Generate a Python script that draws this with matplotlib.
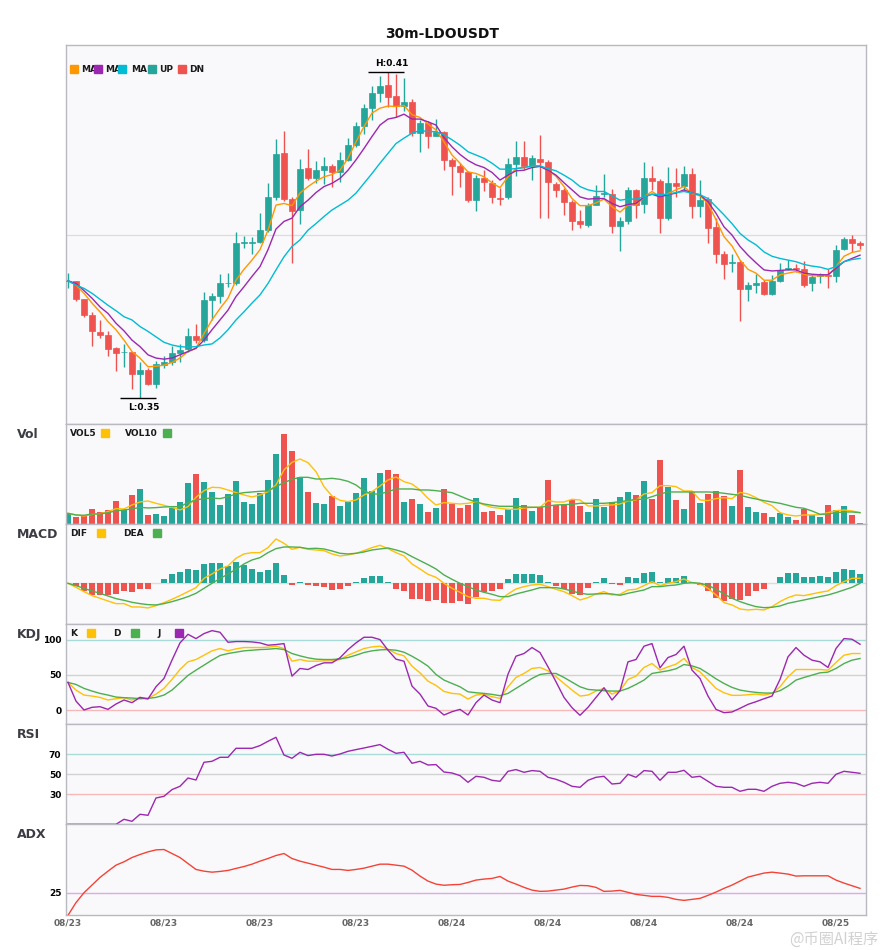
import numpy as np
import matplotlib
matplotlib.use("Agg")
import matplotlib.pyplot as plt
from matplotlib.patches import Rectangle

# ---------------- data ----------------
# prices in units of 1e-4 USDT, 30m candles
opens = [3715, 3716, 3682, 3653, 3621, 3617, 3592, 3585, 3586, 3544,
         3552, 3527, 3561, 3566, 3583, 3590, 3615, 3607, 3681, 3688,
         3711, 3711, 3786, 3786, 3787, 3809, 3869, 3950, 3866, 3846,
         3923, 3905, 3919, 3927, 3916, 3938, 3965, 4000, 4033, 4061,
         4076, 4055, 4037, 4044, 3987, 4006, 3982, 3989, 3937, 3926,
         3915, 3864, 3905, 3896, 3868, 3869, 3930, 3944, 3926, 3940,
         3934, 3894, 3883, 3861, 3825, 3818, 3855, 3876, 3876, 3817,
         3826, 3883, 3857, 3905, 3899, 3832, 3895, 3890, 3912, 3854,
         3866, 3815, 3765, 3748, 3750, 3700, 3708, 3713, 3692, 3716,
         3738, 3740, 3737, 3711, 3724, 3726, 3724, 3775, 3792, 3785]
highs = [3731, 3716, 3682, 3659, 3644, 3624, 3595, 3600, 3586, 3567,
         3555, 3569, 3577, 3596, 3600, 3630, 3636, 3695, 3693, 3728,
         3730, 3806, 3799, 3797, 3841, 3895, 3976, 3991, 3870, 3940,
         3958, 3936, 3943, 3930, 3953, 3979, 4008, 4040, 4074, 4092,
         4100, 4096, 4089, 4049, 4012, 4009, 4014, 3992, 3942, 3932,
         3918, 3910, 3919, 3901, 3886, 3941, 3973, 3973, 3947, 3984,
         3938, 3898, 3886, 3864, 3846, 3859, 3892, 3912, 3885, 3834,
         3888, 3884, 3934, 3927, 3903, 3925, 3924, 3927, 3924, 3901,
         3870, 3832, 3771, 3766, 3754, 3713, 3728, 3717, 3727, 3749,
         3754, 3747, 3752, 3728, 3731, 3737, 3782, 3797, 3800, 3789]
lows = [3702, 3678, 3649, 3596, 3611, 3578, 3550, 3558, 3517, 3500,
        3525, 3519, 3555, 3561, 3567, 3586, 3601, 3604, 3644, 3675,
        3705, 3708, 3776, 3766, 3785, 3806, 3864, 3862, 3748, 3821,
        3901, 3895, 3894, 3889, 3898, 3936, 3962, 3985, 4011, 4044,
        4036, 4016, 4027, 3981, 3953, 3959, 3981, 3919, 3874, 3889,
        3861, 3845, 3880, 3858, 3855, 3866, 3909, 3922, 3902, 3832,
        3832, 3869, 3837, 3809, 3812, 3814, 3855, 3870, 3804, 3771,
        3820, 3832, 3840, 3883, 3804, 3828, 3869, 3880, 3831, 3834,
        3786, 3749, 3720, 3733, 3643, 3679, 3693, 3689, 3689, 3714,
        3736, 3733, 3705, 3698, 3711, 3703, 3713, 3773, 3768, 3774]
closes = [3716, 3682, 3653, 3623, 3616, 3591, 3584, 3586, 3544, 3552,
          3526, 3564, 3566, 3583, 3589, 3615, 3608, 3681, 3688, 3712,
          3712, 3785, 3787, 3787, 3809, 3869, 3949, 3866, 3845, 3921,
          3905, 3919, 3927, 3916, 3938, 3965, 4000, 4033, 4061, 4074,
          4054, 4037, 4044, 3987, 4006, 3981, 3989, 3937, 3926, 3915,
          3864, 3905, 3898, 3869, 3867, 3930, 3944, 3927, 3941, 3935,
          3898, 3883, 3861, 3826, 3821, 3855, 3872, 3877, 3817, 3826,
          3883, 3855, 3905, 3900, 3832, 3895, 3890, 3912, 3854, 3864,
          3813, 3766, 3747, 3750, 3700, 3708, 3711, 3692, 3716, 3736,
          3740, 3737, 3709, 3722, 3728, 3724, 3773, 3792, 3786, 3781]

ma5 = [3716, 3708, 3693, 3675, 3659, 3641, 3626, 3607, 3586, 3574,
       3558, 3559, 3561, 3566, 3574, 3586, 3592, 3619, 3644, 3665,
       3684, 3717, 3737, 3754, 3773, 3809, 3855, 3858, 3854, 3877,
       3889, 3899, 3907, 3911, 3919, 3941, 3971, 3999, 4024, 4033,
       4037, 4036, 4038, 4021, 4016, 4004, 3993, 3971, 3947, 3932,
       3916, 3913, 3907, 3896, 3887, 3907, 3922, 3924, 3926, 3927,
       3919, 3908, 3889, 3867, 3854, 3854, 3859, 3866, 3852, 3842,
       3855, 3855, 3870, 3880, 3870, 3876, 3883, 3889, 3876, 3872,
       3858, 3828, 3797, 3780, 3754, 3737, 3730, 3717, 3717, 3727,
       3730, 3733, 3728, 3725, 3725, 3725, 3742, 3761, 3768, 3771]
ma10 = [3716, 3711, 3698, 3684, 3668, 3656, 3638, 3624, 3607, 3595,
        3580, 3574, 3572, 3574, 3580, 3586, 3592, 3607, 3626, 3644,
        3662, 3687, 3705, 3724, 3742, 3773, 3811, 3825, 3831, 3852,
        3864, 3878, 3889, 3895, 3904, 3919, 3938, 3959, 3981, 4002,
        4013, 4016, 4022, 4013, 4013, 4008, 4002, 3979, 3962, 3948,
        3937, 3929, 3924, 3915, 3901, 3910, 3918, 3919, 3924, 3926,
        3919, 3910, 3896, 3883, 3870, 3866, 3867, 3867, 3858, 3852,
        3856, 3858, 3870, 3875, 3870, 3874, 3877, 3883, 3877, 3874,
        3861, 3840, 3815, 3800, 3779, 3763, 3749, 3736, 3734, 3735,
        3736, 3736, 3730, 3728, 3727, 3727, 3739, 3751, 3757, 3763]
ma20 = [3716, 3708, 3702, 3693, 3682, 3671, 3661, 3650, 3644, 3632,
        3623, 3613, 3603, 3598, 3595, 3594, 3595, 3598, 3600, 3611,
        3626, 3644, 3659, 3675, 3690, 3711, 3736, 3760, 3779, 3791,
        3809, 3821, 3834, 3846, 3855, 3864, 3877, 3895, 3913, 3932,
        3950, 3968, 3978, 3987, 3992, 3990, 3990, 3984, 3975, 3965,
        3953, 3947, 3941, 3932, 3921, 3921, 3922, 3924, 3927, 3927,
        3922, 3918, 3910, 3901, 3889, 3883, 3880, 3880, 3872, 3864,
        3866, 3866, 3870, 3875, 3874, 3875, 3878, 3880, 3877, 3874,
        3867, 3852, 3837, 3821, 3803, 3791, 3782, 3769, 3761, 3757,
        3754, 3751, 3746, 3743, 3741, 3737, 3742, 3751, 3755, 3757]

# volume (arbitrary units) and its averages
vol = [33, 23, 25, 46, 37, 43, 70, 43, 88, 106,
       28, 31, 25, 48, 67, 124, 151, 127, 97, 58,
       91, 130, 67, 61, 94, 133, 211, 271, 220, 142,
       97, 64, 61, 85, 55, 67, 94, 139, 100, 154,
       163, 151, 67, 76, 61, 37, 49, 106, 61, 49,
       58, 79, 37, 40, 28, 46, 79, 58, 40, 52,
       133, 58, 58, 73, 55, 37, 76, 52, 67, 82,
       97, 88, 130, 76, 193, 112, 73, 46, 97, 64,
       91, 100, 85, 55, 163, 52, 37, 34, 22, 34,
       22, 13, 46, 28, 22, 58, 43, 55, 28, 4]
vol5 = [33, 28, 25, 30, 32, 38, 47, 46, 58, 67,
        70, 63, 57, 51, 43, 53, 81, 101, 111, 110,
        103, 95, 88, 82, 88, 98, 118, 163, 186, 196,
        185, 158, 113, 85, 72, 68, 73, 88, 98, 115,
        133, 142, 128, 121, 103, 78, 58, 65, 63, 61,
        63, 68, 58, 51, 48, 45, 45, 49, 51, 51,
        71, 67, 67, 75, 73, 55, 55, 57, 58, 61,
        70, 73, 91, 95, 116, 116, 113, 100, 100, 73,
        71, 77, 80, 77, 96, 91, 80, 66, 56, 35,
        28, 25, 28, 28, 29, 35, 41, 43, 40, 35]
vol10 = [33, 28, 27, 31, 31, 35, 40, 43, 46, 51,
         49, 50, 52, 53, 53, 65, 73, 77, 79, 77,
         83, 91, 95, 97, 99, 100, 113, 125, 135, 141,
         141, 136, 136, 138, 135, 129, 118, 100, 91, 91,
         98, 106, 106, 106, 103, 103, 101, 98, 95, 85,
         75, 67, 61, 57, 54, 54, 54, 52, 51, 51,
         55, 58, 59, 60, 63, 63, 63, 63, 65, 68,
         71, 75, 75, 83, 91, 97, 97, 97, 97, 97,
         97, 96, 93, 90, 87, 81, 76, 71, 67, 63,
         57, 51, 48, 40, 30, 31, 35, 37, 37, 35]

# MACD (units of 1e-5)
macd_hist = [0, -8, -22, -34, -34, -34, -31, -22, -25, -16,
             -16, 0, 13, 28, 34, 43, 40, 58, 61, 61,
             52, 64, 55, 43, 34, 40, 61, 25, -4, 4,
             -4, -7, -10, -19, -16, -7, 4, 16, 22, 22,
             4, -16, -22, -46, -46, -52, -49, -58, -58, -52,
             -61, -40, -25, -22, -16, 13, 28, 28, 28, 25,
             4, -7, -16, -31, -34, -13, 4, 16, -2, -4,
             19, 16, 31, 34, 4, 16, 16, 22, 1, -4,
             -22, -43, -52, -46, -49, -37, -22, -16, 0, 19,
             31, 31, 19, 19, 22, 19, 34, 43, 40, 28]
dif = [0, -12, -25, -37, -45, -53, -61, -61, -71, -71,
       -74, -67, -58, -48, -37, -25, -13, 15, 28, 43,
       52, 75, 88, 92, 92, 107, 133, 120, 102, 108,
       102, 100, 98, 88, 82, 85, 90, 98, 107, 114,
       104, 92, 82, 58, 43, 27, 18, 0, -15, -27,
       -40, -45, -45, -50, -51, -32, -17, -10, -5, -3,
       -10, -18, -25, -37, -50, -43, -32, -25, -35, -33,
       -20, -18, -7, 5, -7, 0, 5, 13, 2, -2,
       -15, -35, -58, -65, -77, -80, -78, -80, -70, -55,
       -43, -35, -37, -32, -27, -23, -7, 5, 15, 15]
dea = [0, -7, -15, -23, -30, -38, -46, -51, -57, -61,
       -64, -65, -61, -55, -48, -40, -30, -15, 0, 14,
       28, 42, 58, 70, 77, 92, 104, 109, 109, 108,
       104, 105, 103, 97, 90, 88, 90, 94, 100, 103,
       106, 100, 93, 80, 68, 56, 43, 25, 12, 0,
       -10, -20, -27, -33, -40, -40, -32, -26, -20, -13,
       -13, -13, -17, -23, -30, -33, -32, -31, -32, -36,
       -30, -25, -20, -10, -10, -7, -5, 0, 2, 0,
       -6, -18, -32, -45, -55, -63, -70, -73, -72, -68,
       -60, -55, -50, -45, -40, -35, -28, -20, -12, 0]

k_line = [39.2, 28.3, 21.2, 19.8, 17.9, 14.2, 16.0, 17.5, 14.2, 17.9,
          16.5, 22.6, 30.7, 43.4, 57.5, 68.4, 71.7, 77.8, 84.0, 87.3,
          84.0, 86.8, 88.7, 88.7, 88.7, 89.2, 90.6, 87.3, 69.3, 71.7,
          69.3, 69.3, 69.8, 69.8, 71.7, 77.8, 82.5, 87.3, 89.6, 90.6,
          86.3, 80.2, 76.9, 62.3, 52.8, 41.0, 34.9, 26.4, 23.6, 22.6,
          15.6, 21.2, 22.6, 18.9, 16.5, 33.0, 46.2, 51.9, 59.0, 60.4,
          55.7, 47.2, 37.7, 28.3, 19.8, 21.2, 26.9, 30.7, 22.6, 27.4,
          43.4, 48.1, 60.4, 66.0, 56.6, 61.3, 65.1, 73.1, 60.4, 54.2,
          42.5, 30.7, 24.5, 20.8, 20.8, 21.7, 22.6, 21.2, 23.6, 33.0,
          47.2, 57.5, 57.5, 57.5, 57.5, 56.6, 67.5, 77.8, 80.2, 80.2]
d_line = [39.2, 36.3, 30.7, 26.9, 23.6, 21.2, 18.4, 17.5, 17.0, 16.0,
          16.5, 17.9, 21.2, 28.3, 38.7, 49.1, 56.6, 63.7, 70.8, 77.4,
          80.2, 82.1, 84.0, 84.9, 85.8, 86.3, 87.3, 85.8, 80.2, 76.9,
          74.1, 72.2, 71.7, 71.7, 72.6, 74.5, 77.8, 81.6, 84.0, 85.4,
          85.8, 84.9, 82.1, 76.4, 69.8, 62.3, 50.5, 42.5, 37.7, 33.0,
          25.9, 24.5, 23.6, 22.2, 20.3, 23.6, 30.7, 37.7, 44.8, 50.5,
          51.9, 51.9, 46.2, 39.6, 33.0, 29.2, 28.3, 27.4, 26.9, 26.9,
          30.7, 36.3, 42.5, 51.9, 53.8, 55.7, 58.5, 64.6, 62.7, 59.0,
          51.9, 44.3, 37.7, 32.1, 28.3, 26.4, 25.0, 24.1, 24.1, 27.4,
          34.0, 42.5, 46.2, 49.5, 52.8, 53.8, 59.0, 66.0, 70.8, 73.1]
j_line = [39.2, 12.7, 0.0, 3.8, 4.7, 0.9, 8.5, 14.2, 10.4, 17.9,
          15.6, 33.0, 44.8, 70.8, 95.3, 107.5, 101.4, 108.5, 112.7, 110.4,
          96.2, 97.2, 97.2, 96.7, 95.3, 92.0, 92.9, 94.3, 48.1, 59.0,
          57.5, 63.2, 67.0, 67.0, 74.1, 85.8, 95.3, 103.3, 103.3, 100.0,
          84.9, 72.2, 69.3, 34.0, 22.6, 5.7, 2.4, -7.1, -2.4, 0.9,
          -7.1, 10.4, 21.2, 14.2, 10.4, 50.9, 76.4, 80.2, 88.7, 81.6,
          61.3, 40.1, 17.9, 3.3, -7.5, 3.8, 17.9, 31.6, 14.2, 27.4,
          68.4, 71.7, 90.6, 94.3, 59.9, 74.5, 78.8, 90.6, 56.6, 44.8,
          19.8, 0.9, -3.8, -2.8, 2.4, 8.0, 11.8, 16.0, 19.8, 43.4,
          75.5, 88.7, 77.8, 70.8, 68.4, 60.4, 87.3, 101.4, 100.5, 93.4]

rsi = [0, 0, 0, 0, 0, 0, 0, 5, 3, 10,
       9, 26.3, 28, 34.7, 38, 46.3, 44.3, 62, 63, 67,
       67, 76, 76, 76, 78.7, 83, 87, 69.3, 66, 72,
       68.7, 70, 70, 68.3, 70.3, 73, 74.7, 76.3, 78, 79.7,
       75, 71, 72, 61, 63, 59.3, 59.7, 52.3, 51.3, 48.7,
       42, 48, 47, 44, 43, 53, 54.7, 52, 53.7, 53,
       47, 45, 42, 38, 37, 44, 47, 48, 40.3, 41,
       50, 47, 53.7, 53, 44, 52, 52, 54, 47, 48,
       43, 38, 37, 37, 33, 35, 35, 33, 38, 41,
       42, 41, 38, 41, 42, 41, 50, 53, 52, 51]

adx = [0, 13.9, 24.8, 33.2, 41.6, 48.5, 55.1, 58.8, 63.5, 66.8,
       69.7, 71.9, 72.3, 67.9, 63.5, 56.9, 50.4, 48.5, 47.4, 48.2,
       49.3, 51.5, 53.6, 56.2, 59.5, 62.4, 65.7, 67.9, 62.4, 59.5,
       57.3, 55.1, 52.9, 50.4, 50.4, 49.3, 50.4, 51.8, 54.0, 56.2,
       56.2, 55.1, 54.0, 49.6, 43.1, 37.6, 34.3, 33.0, 33.6, 33.9,
       36.1, 38.7, 39.8, 40.5, 42.7, 37.6, 34.3, 30.7, 27.7, 26.3,
       26.6, 27.7, 28.8, 31.0, 32.8, 32.5, 30.7, 26.3, 26.6, 27.4,
       25.2, 23.0, 21.9, 20.8, 20.8, 19.7, 17.5, 16.4, 17.5, 18.6,
       21.9, 25.5, 29.6, 33.2, 37.6, 42.0, 44.2, 46.4, 47.4, 46.4,
       45.3, 43.1, 43.4, 43.4, 43.4, 43.4, 38.7, 35.4, 32.5, 29.6]

tick_idx = [0, 12, 24, 36, 48, 60, 72, 84, 96]
tick_text = ["08/23", "08/23", "08/23", "08/23", "08/24", "08/24", "08/24", "08/24", "08/25"]
kdj_levels = [0, 50, 100]
rsi_levels = [30, 50, 70]
adx_levels = [25]

# ---------------- style ----------------
W, H = 885, 950
UP = "#26a69a"
DN = "#ef5350"
BG = "#f9f9fb"
SPINE = "#b9b9c1"

plt.rcParams["font.family"] = ["DejaVu Sans", "Noto Sans CJK SC"]

o = np.array(opens) / 1e4
h = np.array(highs) / 1e4
l = np.array(lows) / 1e4
c = np.array(closes) / 1e4
x = np.arange(len(o))
cols = np.where(c >= o, UP, DN)

fig = plt.figure(figsize=(W / 100, H / 100), dpi=100)


def panel(top, bottom):
    ax = fig.add_axes([65.5 / W, 1 - bottom / H, 800.5 / W, (bottom - top) / H])
    ax.set_facecolor(BG)
    for s in ax.spines.values():
        s.set_color(SPINE)
        s.set_linewidth(1.0)
    ax.set_xlim(-0.31, 99.75)
    ax.set_xticks([])
    ax.tick_params(length=0, labelsize=6.5, pad=3)
    return ax


def ftext(px, py, s, **kw):
    fig.text(px / W, 1 - py / H, s, va="center", **kw)


def fbox(px, py, color, size=8):
    fig.add_artist(Rectangle((px / W, 1 - (py + size / 2) / H), size / W, size / H,
                             transform=fig.transFigure, color=color, zorder=10))


ax_p = panel(45.3, 424)
ax_v = panel(424, 524.3)
ax_m = panel(524.3, 624.3)
ax_k = panel(624.3, 724.3)
ax_r = panel(724.3, 824.3)
ax_a = panel(824.3, 915.3)

# ---- price panel ----
ax_p.vlines(x, l, h, colors=cols, lw=1.0, zorder=2)
ax_p.bar(x, np.maximum(np.abs(c - o), 0.00008), bottom=np.minimum(o, c), width=0.68,
         color=cols, edgecolor=cols, linewidth=0.5, zorder=3)
ax_p.plot(x, np.array(ma5) / 1e4, color="#ff9800", lw=1.0, zorder=4)
ax_p.plot(x, np.array(ma10) / 1e4, color="#9c27b0", lw=1.0, zorder=4)
ax_p.plot(x, np.array(ma20) / 1e4, color="#00bcd4", lw=1.0, zorder=4)
ax_p.set_ylim(0.34529, 0.41485)
ax_p.set_yticks([0.38007])
ax_p.set_yticklabels([])
ax_p.grid(axis="y", color="#dcdcdc", lw=0.9)
ax_p.set_axisbelow(True)

ih, il = int(np.argmax(h)), int(np.argmin(l))
ax_p.hlines(h[ih], ih - 2.5, ih + 1.95, color="black", lw=1.0)
ax_p.annotate(f"H:{h[ih]:.2f}", (ih + 0.5, h[ih]), xytext=(0, 2.5), textcoords="offset points",
              ha="center", va="bottom", fontsize=6.5, fontweight="bold")
ax_p.hlines(l[il], il - 2.5, il + 1.95, color="black", lw=1.0)
ax_p.annotate(f"L:{l[il]:.2f}", (il + 0.5, l[il]), xytext=(0, -3), textcoords="offset points",
              ha="center", va="top", fontsize=6.5, fontweight="bold")

# ---- volume ----
ax_v.bar(x, vol, width=0.75, color=cols, zorder=2)
ax_v.plot(x, vol5, color="#ffc107", lw=1.0, zorder=3)
ax_v.plot(x, vol10, color="#4caf50", lw=1.0, zorder=3)
ax_v.set_ylim(0, 301)
ax_v.set_yticks([])

# ---- MACD ----
hist = np.array(macd_hist)
ax_m.axhline(0, color="#dcdcdc", lw=1.0, zorder=1)
ax_m.bar(x, hist, width=0.75, color=np.where(hist >= 0, UP, DN), zorder=2)
ax_m.plot(x, dif, color="#ffc107", lw=1.0, zorder=3)
ax_m.plot(x, dea, color="#4caf50", lw=1.0, zorder=3)
ax_m.set_ylim(-123, 177)
ax_m.set_yticks([])

# ---- KDJ ----
for lv, lc in zip(kdj_levels, ["#f6b8b8", "#d2d2d2", "#a9dcd8"]):
    ax_k.axhline(lv, color=lc, lw=1.0, zorder=1)
ax_k.plot(x, k_line, color="#ffc107", lw=1.0, zorder=3)
ax_k.plot(x, d_line, color="#4caf50", lw=1.0, zorder=3)
ax_k.plot(x, j_line, color="#9c27b0", lw=1.0, zorder=3)
ax_k.set_ylim(-20.3, 121.7)
ax_k.set_yticks(kdj_levels)
ax_k.set_yticklabels([str(v) for v in kdj_levels], fontweight="bold", fontsize=6.5)

# ---- RSI ----
for lv, lc in zip(rsi_levels, ["#f6b8b8", "#d2d2d2", "#a9dcd8"]):
    ax_r.axhline(lv, color=lc, lw=1.0, zorder=1)
ax_r.plot(x, rsi, color="#9c27b0", lw=1.0, zorder=3)
ax_r.set_ylim(0, 100)
ax_r.set_yticks(rsi_levels)
ax_r.set_yticklabels([str(v) for v in rsi_levels], fontweight="bold", fontsize=6.5)

# ---- ADX ----
for lv in adx_levels:
    ax_a.axhline(lv, color="#dcaae4", lw=1.0, zorder=1)
ax_a.plot(x, adx, color="#f44336", lw=1.0, zorder=3)
ax_a.set_ylim(0, 100)
ax_a.set_yticks(adx_levels)
ax_a.set_yticklabels([str(v) for v in adx_levels], fontweight="bold", fontsize=6.5)
ax_a.set_xticks(tick_idx)
ax_a.set_xticklabels(tick_text, fontsize=6.5, fontweight="bold", color="#666666")
ax_a.tick_params(axis="x", length=0, pad=2)

# ---- titles, panel names, legends ----
fig.text(0.5, 1 - 34.3 / H, "30m-LDOUSDT", ha="center", va="center",
         fontsize=10, fontweight="bold", color="#111111")
for name, py in [("Vol", 434.5), ("MACD", 534.5), ("KDJ", 634.5), ("RSI", 735), ("ADX", 835)]:
    ftext(17, py, name, fontsize=9, fontweight="bold", color="#3c3c44")

lg = dict(fontsize=6.5, fontweight="bold", color="#1a1a1a")
for bx, col, tx, lab in [(70, "#ff9800", 81, "MA"), (94.3, "#9c27b0", 105, "MA"),
                         (118, "#00bcd4", 131, "MA"), (148.3, UP, 159, "UP"),
                         (178.3, DN, 189, "DN")]:
    fbox(bx, 69, col, size=7.7)
    ftext(tx, 69, lab, **lg)

ftext(70, 434, "VOL5", **lg)
fbox(101, 433, "#ffc107")
ftext(125.3, 434, "VOL10", **lg)
fbox(163, 433, "#4caf50")

ftext(70, 534, "DIF", **lg)
fbox(97, 533.3, "#ffc107")
ftext(123, 534, "DEA", **lg)
fbox(153, 533.3, "#4caf50")

ftext(70, 634, "K", **lg)
fbox(87, 633, "#ffc107")
ftext(113, 634, "D", **lg)
fbox(131, 633, "#4caf50")
ftext(157, 634, "J", **lg)
fbox(175, 633, "#9c27b0")

# watermark, kept just below the date labels so the two do not collide
fig.text(878 / W, 1 - 940 / H, "@币圈AI程序", ha="right", va="center", fontsize=11,
         color="#cccccc", alpha=0.9, family=["Noto Sans CJK SC", "DejaVu Sans"], zorder=20)

fig.savefig("out.png", dpi=100, facecolor="white")
